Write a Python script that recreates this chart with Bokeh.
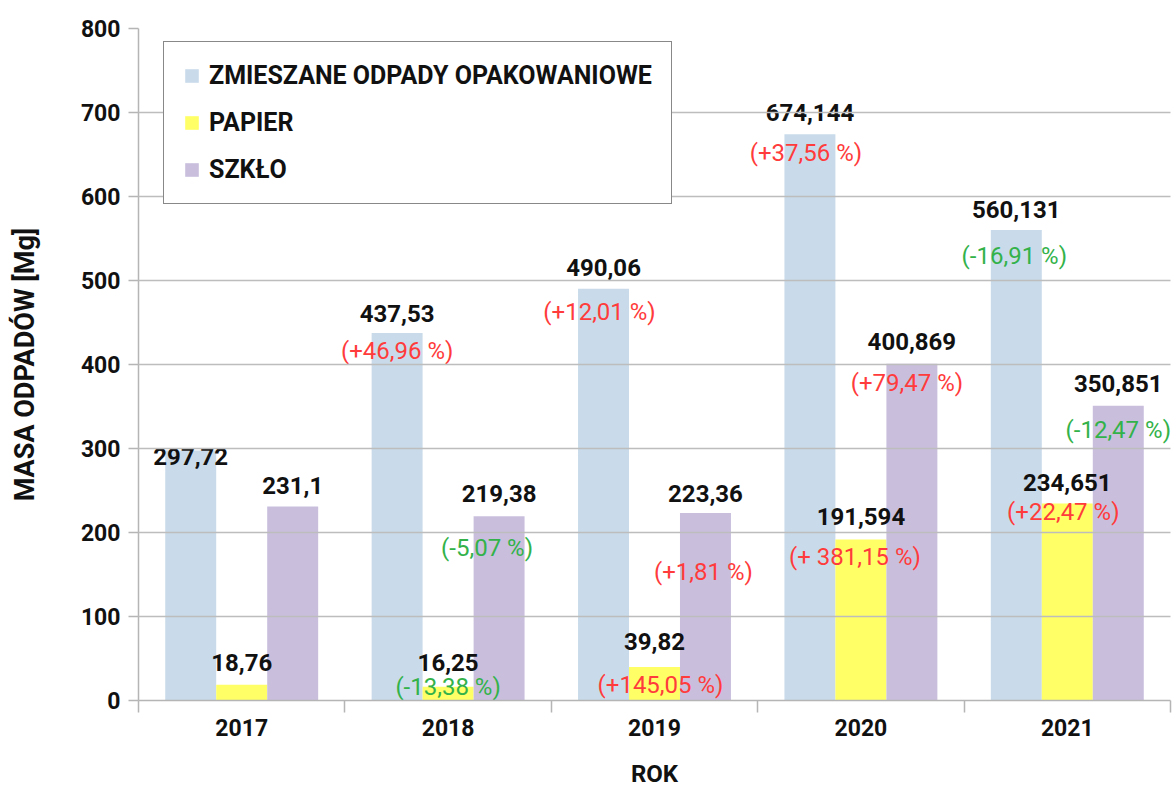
import numpy as np
from bokeh.plotting import figure
from bokeh.models import ColumnDataSource, Range1d, FixedTicker, Legend, LegendItem
from bokeh.core.properties import value
from bokeh.embed import file_html
from bokeh.resources import INLINE

# ---- data ----
years = ["2017", "2018", "2019", "2020", "2021"]
mixed = [297.72, 437.53, 490.06, 674.144, 560.131]
paper = [18.76, 16.25, 39.82, 191.594, 234.651]
glass = [231.1, 219.38, 223.36, 400.869, 350.851]
mixed_pct = ["", "(+46,96 %)", "(+12,01 %)", "(+37,56 %)", "(-16,91 %)"]
paper_pct = ["", "(-13,38 %)", "(+145,05 %)", "(+ 381,15 %)", "(+22,47 %)"]
glass_pct = ["", "(-5,07 %)", "(+1,81 %)", "(+79,47 %)", "(-12,47 %)"]
series_names = ["ZMIESZANE ODPADY OPAKOWANIOWE", "PAPIER", "SZKŁO"]
y_ticks = [0, 100, 200, 300, 400, 500, 600, 700, 800]
x_title = "ROK"
y_title = "MASA ODPADÓW [Mg]"

# ---- layout (label anchors, data units) ----
mixed_lab_y = [290, 461, 515, 700, 585]
paper_lab_y = [45, 45, 70, 219, 260]
glass_lab_y = [256, 247, 247, 427, 377]
mixed_pct_y = [0, 416, 462, 652, 529]
paper_pct_y = [0, 15.5, 18, 171, 225]
glass_pct_y = [0, 181, 153, 378, 322]
mixed_pct_dx = [0, 0, -4, -4, -2]
paper_pct_dx = [0, 0, 6, -6, -4]
glass_pct_dx = [0, -12, -2, -5, 0]

FONT = "Roboto"
colors = ["#c9dbea", "#ffff66", "#c9bfdd"]
RED = "#ff3b3b"
GREEN = "#33b24a"
BW = 0.247

p = figure(width=1176, height=790, output_backend="svg", toolbar_location=None,
           x_range=Range1d(0, 5), y_range=Range1d(0, 800),
           min_border_left=138, min_border_right=6, min_border_top=28, min_border_bottom=89)
p.outline_line_color = None
p.background_fill_color = "white"

centers = np.arange(len(years)) + 0.5
offsets = [-BW, 0.0, BW]
vals = [mixed, paper, glass]
renderers = []
for vs, off, col in zip(vals, offsets, colors):
    src = ColumnDataSource(dict(x=centers + off, top=vs))
    r = p.vbar(x="x", top="top", width=BW, bottom=0, source=src,
               fill_color=col, line_color=None)
    renderers.append(r)

# value labels
lab_ys = [mixed_lab_y, paper_lab_y, glass_lab_y]
pcts = [mixed_pct, paper_pct, glass_pct]
pct_ys = [mixed_pct_y, paper_pct_y, glass_pct_y]
pct_dxs = [mixed_pct_dx, paper_pct_dx, glass_pct_dx]
for vs, off, ly, pc, py, pdx in zip(vals, offsets, lab_ys, pcts, pct_ys, pct_dxs):
    txt = [str(v).replace(".", ",") for v in vs]
    src = ColumnDataSource(dict(x=centers + off, y=ly, t=txt))
    p.text(x="x", y="y", text="t", source=src, text_align="center", text_baseline="middle",
           text_font=value(FONT), text_font_style="bold", text_font_size="24px",
           text_color="#111111")
    keep = [i for i in range(len(pc)) if pc[i]]
    src2 = ColumnDataSource(dict(
        x=[centers[i] + off for i in keep], y=[py[i] for i in keep],
        t=[pc[i] for i in keep], dx=[pdx[i] for i in keep],
        c=[RED if pc[i].startswith("(+") else GREEN for i in keep]))
    p.text(x="x", y="y", text="t", source=src2, x_offset="dx", text_align="center",
           text_baseline="middle", text_font=value(FONT), text_font_size="24px",
           text_color="c")

# grid
p.xgrid.visible = False
p.ygrid.ticker = FixedTicker(ticks=y_ticks)
p.ygrid.grid_line_color = "#bdbdbd"
p.ygrid.grid_line_width = 1.5
p.ygrid.level = "annotation"

# y axis
ya = p.yaxis[0]
ya.ticker = FixedTicker(ticks=y_ticks)
ya.axis_label = y_title
ya.axis_label_text_font = FONT
ya.axis_label_text_font_style = "bold"
ya.axis_label_text_font_size = "27px"
ya.axis_label_text_color = "#111111"
ya.axis_label_standoff = 37
ya.major_label_text_font = FONT
ya.major_label_text_font_style = "bold"
ya.major_label_text_font_size = "23px"
ya.major_label_text_color = "#111111"
ya.major_tick_out = 10
ya.major_tick_in = 0
ya.major_label_standoff = 8
ya.minor_tick_out = 0
ya.minor_tick_in = 0
ya.axis_line_color = "#b5b5b5"
ya.axis_line_width = 1.5
ya.major_tick_line_color = "#b5b5b5"
ya.major_tick_line_width = 1.5

# x axis
xa = p.xaxis[0]
xa.ticker = FixedTicker(ticks=list(centers), minor_ticks=list(range(len(years) + 1)))
xa.major_label_overrides = {float(c): y for c, y in zip(centers, years)}
xa.axis_label = x_title
xa.axis_label_text_font = FONT
xa.axis_label_text_font_style = "bold"
xa.axis_label_text_font_size = "24px"
xa.axis_label_text_color = "#111111"
xa.axis_label_standoff = 21
xa.major_label_text_font = FONT
xa.major_label_text_font_style = "bold"
xa.major_label_text_font_size = "23px"
xa.major_label_text_color = "#111111"
xa.major_tick_out = 0
xa.major_tick_in = 0
xa.major_label_standoff = 6
xa.minor_tick_out = 12
xa.minor_tick_in = 0
xa.minor_tick_line_color = "#b5b5b5"
xa.minor_tick_line_width = 1.5
xa.axis_line_color = "#b5b5b5"
xa.axis_line_width = 1.5

# legend
items = [LegendItem(label=n, renderers=[r]) for n, r in zip(series_names, renderers)]
leg = Legend(items=items, location=(25, 496), orientation="vertical")
leg.label_text_font = FONT
leg.label_text_font_style = "bold"
leg.label_text_font_size = "25px"
leg.label_text_color = "#111111"
leg.glyph_width = 17
leg.glyph_height = 17
leg.label_height = 26
leg.label_standoff = 9
leg.spacing = 18
leg.padding = 19
leg.border_line_color = "#111111"
leg.border_line_width = 1.5
leg.background_fill_color = "white"
leg.background_fill_alpha = 1.0
p.add_layout(leg, "center")

open("out.html", "w").write(file_html(p, INLINE))
